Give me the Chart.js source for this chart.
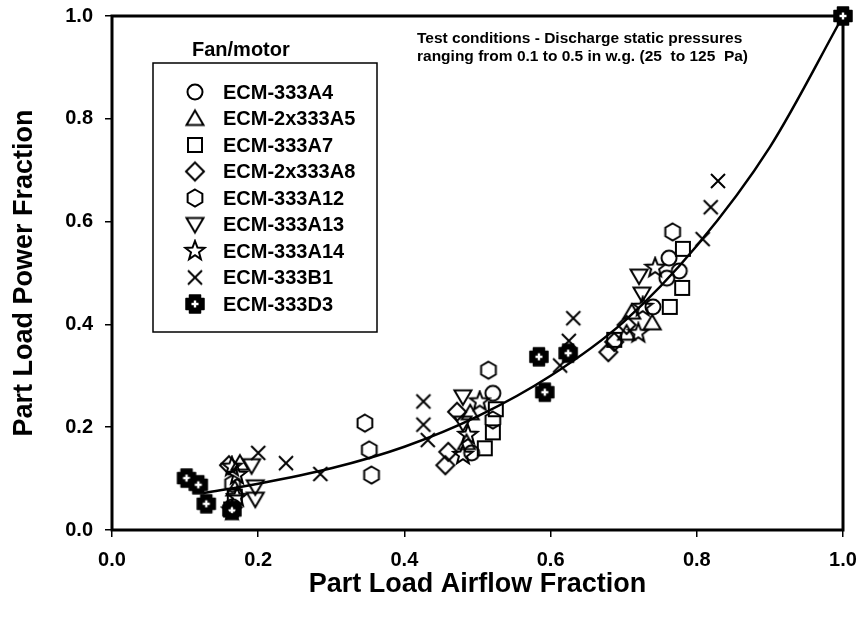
<!DOCTYPE html>
<html>
<head>
<meta charset="utf-8">
<script src="https://cdn.jsdelivr.net/npm/chart.js@4.4.1/dist/chart.umd.min.js"></script>
<style>
  html, body { margin: 0; padding: 0; background: #fff; }
  #wrap { width: 864px; height: 628px; }
</style>
</head>
<body>
<div id="wrap"><canvas id="canvas-fan-power"></canvas></div>
<script>
// values
const seriesNames = ['ECM-333A4', 'ECM-2x333A5', 'ECM-333A7', 'ECM-2x333A8', 'ECM-333A12',
  'ECM-333A13', 'ECM-333A14', 'ECM-333B1', 'ECM-333D3'];

const a4X = [0.165, 0.492, 0.521, 0.740, 0.759, 0.762, 0.776, 1.0];
const a4Y = [0.045, 0.150, 0.266, 0.434, 0.490, 0.529, 0.504, 1.0];
const a5X = [0.175, 0.168, 0.490, 0.485, 0.704, 0.711, 0.739];
const a5Y = [0.130, 0.080, 0.228, 0.170, 0.383, 0.424, 0.403];
const a7X = [0.163, 0.168, 0.510, 0.521, 0.525, 0.687, 0.763, 0.780, 0.781];
const a7Y = [0.040, 0.065, 0.159, 0.190, 0.235, 0.370, 0.434, 0.471, 0.547];
const a8X = [0.160, 0.456, 0.460, 0.472, 0.679, 0.687, 0.704];
const a8Y = [0.126, 0.126, 0.152, 0.230, 0.346, 0.366, 0.399];
const a12X = [0.165, 0.346, 0.352, 0.355, 0.515, 0.521, 0.767];
const a12Y = [0.090, 0.208, 0.156, 0.107, 0.311, 0.214, 0.580];
const a13X = [0.191, 0.196, 0.196, 0.480, 0.480, 0.721, 0.725];
const a13Y = [0.125, 0.084, 0.060, 0.259, 0.208, 0.494, 0.459];
const a14X = [0.164, 0.171, 0.171, 0.164, 0.480, 0.487, 0.503, 0.720, 0.726, 0.743];
const a14Y = [0.038, 0.064, 0.107, 0.123, 0.146, 0.185, 0.250, 0.383, 0.434, 0.510];
const b1X = [0.200, 0.238, 0.285, 0.426, 0.426, 0.432, 0.613, 0.625, 0.631, 0.808, 0.819, 0.829];
const b1Y = [0.150, 0.130, 0.109, 0.250, 0.205, 0.175, 0.320, 0.368, 0.412, 0.566, 0.628, 0.679];
const d3X = [0.102, 0.118, 0.129, 0.164, 0.584, 0.592, 0.624, 1.0];
const d3Y = [0.101, 0.088, 0.051, 0.038, 0.337, 0.268, 0.344, 1.0];

// fitted curve, read at a few x positions
const curveX = [0.125, 0.2, 0.3, 0.4, 0.5, 0.6, 0.7, 0.8, 0.9, 1.0];
const curveY = [0.072, 0.090, 0.120, 0.162, 0.221, 0.300, 0.405, 0.553, 0.745, 1.0];

const tickValues = [0, 0.2, 0.4, 0.6, 0.8, 1.0];

const FONT = "'Liberation Sans', Arial, sans-serif";

function pts(xs, ys) {
  return xs.map((x, i) => ({ x: x, y: ys[i] }));
}

// marker glyphs drawn on small canvases
function marker(draw) {
  const c = document.createElement('canvas');
  c.width = 24;
  c.height = 24;
  const ctx = c.getContext('2d');
  ctx.translate(12, 12);
  ctx.lineWidth = 2;
  ctx.strokeStyle = '#000';
  ctx.fillStyle = '#000';
  draw(ctx);
  return c;
}

function poly(ctx, p) {
  ctx.beginPath();
  ctx.moveTo(p[0][0], p[0][1]);
  for (let i = 1; i < p.length; i++) ctx.lineTo(p[i][0], p[i][1]);
  ctx.closePath();
}

const markers = [
  marker(ctx => { ctx.beginPath(); ctx.arc(0, 0, 7.5, 0, Math.PI * 2); ctx.stroke(); }),
  marker(ctx => { poly(ctx, [[0, -8], [8.5, 6.5], [-8.5, 6.5]]); ctx.stroke(); }),
  marker(ctx => { ctx.strokeRect(-7, -7, 14, 14); }),
  marker(ctx => { poly(ctx, [[0, -9], [9, 0], [0, 9], [-9, 0]]); ctx.stroke(); }),
  marker(ctx => {
    const p = [];
    for (let k = 0; k < 6; k++) {
      const a = -Math.PI / 2 + k * Math.PI / 3;
      p.push([8.5 * Math.cos(a), 8.5 * Math.sin(a)]);
    }
    poly(ctx, p); ctx.stroke();
  }),
  marker(ctx => { poly(ctx, [[0, 8], [8.5, -6.5], [-8.5, -6.5]]); ctx.stroke(); }),
  marker(ctx => {
    const p = [];
    for (let k = 0; k < 10; k++) {
      const a = -Math.PI / 2 + k * Math.PI / 5;
      const r = k % 2 === 0 ? 10 : 4.2;
      p.push([r * Math.cos(a), r * Math.sin(a)]);
    }
    poly(ctx, p); ctx.stroke();
  }),
  marker(ctx => {
    ctx.beginPath();
    ctx.moveTo(-7, -7); ctx.lineTo(7, 7);
    ctx.moveTo(7, -7); ctx.lineTo(-7, 7);
    ctx.stroke();
  }),
  marker(ctx => {
    const w = 5.5, l = 9;
    poly(ctx, [[-w, -l], [w, -l], [w, -w], [l, -w], [l, w], [w, w], [w, l], [-w, l], [-w, w], [-l, w], [-l, -w], [-w, -w]]);
    ctx.fill();
    ctx.lineJoin = 'round';
    ctx.lineWidth = 1.5;
    ctx.stroke();
    ctx.fillStyle = '#fff';
    ctx.fillRect(-3.5, -1.2, 7, 2.4);
    ctx.fillRect(-1.2, -3.5, 2.4, 7);
  })
];

const seriesX = [a4X, a5X, a7X, a8X, a12X, a13X, a14X, b1X, d3X];
const seriesY = [a4Y, a5Y, a7Y, a8Y, a12Y, a13Y, a14Y, b1Y, d3Y];

const datasets = seriesNames.map((name, i) => ({
  label: name,
  data: pts(seriesX[i], seriesY[i]),
  pointStyle: markers[i],
  pointRadius: 8,
  clip: false
}));

datasets.push({
  label: 'fit',
  data: pts(curveX, curveY),
  showLine: true,
  borderColor: '#000',
  borderWidth: 2.5,
  pointRadius: 0,
  cubicInterpolationMode: 'monotone',
  clip: false
});

const frame = {
  id: 'frame',
  beforeDatasetsDraw(chart) {
    const a = chart.chartArea;
    const ctx = chart.ctx;
    ctx.save();
    ctx.lineWidth = 3;
    ctx.strokeStyle = '#000';
    ctx.strokeRect(a.left, a.top, a.right - a.left, a.bottom - a.top);
    ctx.restore();
  }
};

const fanLegend = {
  id: 'fanLegend',
  afterDraw(chart) {
    const ctx = chart.ctx;
    ctx.save();
    ctx.fillStyle = '#000';
    ctx.strokeStyle = '#000';
    ctx.font = 'bold 20px ' + FONT;
    ctx.textAlign = 'left';
    ctx.textBaseline = 'middle';
    ctx.fillText('Fan/motor', 192, 50);
    ctx.lineWidth = 1.5;
    ctx.strokeRect(153, 63, 224, 269);
    seriesNames.forEach((name, i) => {
      const y = 92 + i * 26.5;
      ctx.drawImage(markers[i], 195 - 12, y - 12);
      ctx.fillText(name, 223, y + 1);
    });
    ctx.font = 'bold 15.5px ' + FONT;
    ctx.fillText('Test conditions - Discharge static pressures', 417, 39);
    ctx.fillText('ranging from 0.1 to 0.5 in w.g. (25  to 125  Pa)', 417, 57);
    ctx.restore();
  }
};

const chartFanPower = document.getElementById('canvas-fan-power');

new Chart(chartFanPower, {
  type: 'scatter',
  data: { datasets: datasets },
  options: {
    responsive: true,
    maintainAspectRatio: false,
    animation: false,
    devicePixelRatio: 1,
    layout: { padding: { top: 16, right: 21, left: 0, bottom: 0 } },
    plugins: {
      legend: { display: false },
      tooltip: { enabled: false }
    },
    scales: {
      x: {
        type: 'linear',
        min: 0,
        max: 1,
        afterBuildTicks: (s) => { s.ticks = tickValues.map(v => ({ value: v })); },
        afterFit: (s) => { s.height = 98; s.paddingLeft = 0; s.paddingRight = 0; },
        ticks: {
          color: '#000',
          padding: 11,
          font: { family: FONT, size: 20, weight: 'bold' },
          callback: (v) => Number(v).toFixed(1)
        },
        grid: { drawOnChartArea: false, drawTicks: true, tickLength: 7, color: '#000', lineWidth: 1.5 },
        border: { display: false },
        title: {
          display: true,
          text: 'Part Load Airflow Fraction',
          color: '#000',
          font: { family: FONT, size: 27, weight: 'bold' },
          padding: { top: 0, bottom: 27 }
        }
      },
      y: {
        type: 'linear',
        min: 0,
        max: 1,
        afterBuildTicks: (s) => { s.ticks = tickValues.map(v => ({ value: v })); },
        afterFit: (s) => { s.width = 112; s.paddingTop = 0; s.paddingBottom = 0; },
        ticks: {
          color: '#000',
          padding: 12,
          font: { family: FONT, size: 20, weight: 'bold' },
          callback: (v) => Number(v).toFixed(1)
        },
        grid: { drawOnChartArea: false, drawTicks: true, tickLength: 7, color: '#000', lineWidth: 1.5 },
        border: { display: false },
        title: {
          display: true,
          text: 'Part Load Power Fraction',
          color: '#000',
          font: { family: FONT, size: 27, weight: 'bold' },
          padding: { top: 8, bottom: 0 }
        }
      }
    }
  },
  plugins: [frame, fanLegend]
});
</script>
</body>
</html>
